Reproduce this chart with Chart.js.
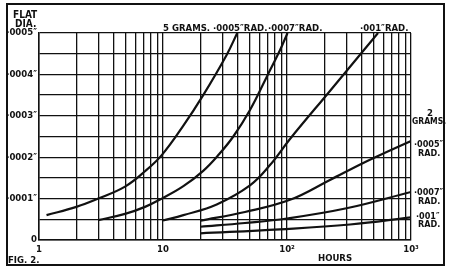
<!DOCTYPE html>
<html>
<head>
<meta charset="utf-8">
<script src="https://cdn.jsdelivr.net/npm/chart.js@4/dist/chart.umd.min.js"></script>
<style>
    html, body { margin: 0; padding: 0; background: #fff; }
    #wrap { width: 449px; height: 267px; position: relative; }
</style>
</head>
<body>
<div id="wrap"><canvas id="myChart" width="449" height="267"></canvas></div>
<script>
// 5 grams load: .0005", .0007", .001" radius
const hours5gA = [1.15, 2, 3, 4.94, 7.16, 9.77, 14.5, 21.1, 32.6, 39.7];
const dia5gA = [0.00006, 0.00008, 0.0001, 0.000129, 0.000166, 0.000205, 0.000275, 0.00035, 0.000447, 0.0005];

const hours5gB = [3, 4.94, 7.16, 9.77, 14.6, 21.1, 28.3, 36.9, 50.3, 68.6, 87.9, 101];
const dia5gB = [0.000048, 0.000063, 0.00008, 0.0001, 0.00013, 0.000167, 0.000207, 0.00025, 0.000314, 0.000394, 0.000459, 0.0005];

const hours5gC = [10, 14.6, 27.1, 50.3, 72.9, 105.7, 222, 542];
const dia5gC = [0.000047, 0.00006, 0.000086, 0.000132, 0.000181, 0.000244, 0.00036, 0.0005];

// 2 grams load: .0005", .0007", .001" radius
const hours2gA = [20, 45.8, 105.7, 222, 412, 676, 1000];
const dia2gA = [0.0000466, 0.0000676, 0.000097, 0.000145, 0.000186, 0.000216, 0.000239];

const hours2gB = [20, 45.8, 100, 302, 1000];
const dia2gB = [0.000032, 0.000041, 0.000052, 0.0000766, 0.000116];

const hours2gC = [20, 87.9, 322, 1000];
const dia2gC = [0.0000162, 0.0000258, 0.0000374, 0.0000548];

// axis ticks
const xTickValues = [1, 2, 3, 4, 5, 6, 7, 8, 9, 10, 20, 30, 40, 50, 60, 70, 80, 90, 100, 200, 300, 400, 500, 600, 700, 800, 900, 1000];
const xTickLabels = { 1: '1', 10: '10', 100: '10²', 1000: '10³' };
const yTickValues = [0, 0.00005, 0.0001, 0.00015, 0.0002, 0.00025, 0.0003, 0.00035, 0.0004, 0.00045, 0.0005];
const yTickLabels = { 0: '0', 0.0001: '·0001″', 0.0002: '·0002″', 0.0003: '·0003″', 0.0004: '·0004″', 0.0005: '·0005″' };

const FONT = "'Liberation Sans Narrow', 'DejaVu Sans Condensed', sans-serif";

function toPoints(xs, ys) {
    return xs.map(function(x, i) { return { x: x, y: ys[i] }; });
}

function curve(xs, ys) {
    return {
        data: toPoints(xs, ys),
        borderColor: '#111',
        borderWidth: 2.2,
        pointRadius: 0,
        fill: false,
        tension: 0.4
    };
}

// labels and frame drawn on top of the chart
const textPlugin = {
    id: 'textPlugin',
    afterDraw: function(chart) {
        let ctx = chart.ctx;
        ctx.save();
        ctx.fillStyle = '#111';
        ctx.textAlign = 'left';
        ctx.textBaseline = 'alphabetic';
        ctx.font = 'bold 10px ' + FONT;
        ctx.fillText('FLAT', 13, 18);
        ctx.fillText('DIA.', 15, 27);

        ctx.font = 'bold 9.5px ' + FONT;
        ctx.fillText('5 GRAMS.', 163, 31);
        ctx.fillText('·0005″RAD.', 213, 31);
        ctx.fillText('·0007″RAD.', 268, 31);
        ctx.fillText('·001″RAD.', 360, 31);

        ctx.fillText('2', 427, 116);
        ctx.font = 'bold 8.5px ' + FONT;
        ctx.fillText('GRAMS.', 412, 124);
        ctx.font = 'bold 9px ' + FONT;
        ctx.fillText('·0005″', 414, 147);
        ctx.fillText('RAD.', 418, 156);
        ctx.fillText('·0007″', 414, 195);
        ctx.fillText('RAD.', 418, 204);
        ctx.fillText('·001″', 416, 219);
        ctx.fillText('RAD.', 418, 227);

        ctx.font = 'bold 9.5px ' + FONT;
        ctx.fillText('HOURS', 318, 261);
        ctx.fillText('FIG. 2.', 8, 263);

        // outer frame
        ctx.strokeStyle = '#111';
        ctx.lineWidth = 2;
        ctx.strokeRect(7, 4, 437, 261);
        ctx.restore();
    }
};

let canvas = document.getElementById('myChart');
let chartCtx = canvas.getContext('2d');
new Chart(chartCtx, {
    type: 'line',
    data: {
        datasets: [
            curve(hours5gA, dia5gA),
            curve(hours5gB, dia5gB),
            curve(hours5gC, dia5gC),
            curve(hours2gA, dia2gA),
            curve(hours2gB, dia2gB),
            curve(hours2gC, dia2gC)
        ]
    },
    options: {
        responsive: false,
        animation: false,
        devicePixelRatio: 1,
        layout: { padding: { left: 0, top: 33, right: 38, bottom: 0 } },
        plugins: {
            legend: { display: false },
            tooltip: { enabled: false }
        },
        scales: {
            x: {
                type: 'logarithmic',
                min: 1,
                max: 1000,
                afterBuildTicks: function(scale) {
                    scale.ticks = xTickValues.map(function(v) { return { value: v }; });
                },
                afterFit: function(scale) { scale.height = 27; },
                grid: { color: '#111', lineWidth: 1.3, drawTicks: false },
                border: { color: '#111', width: 1.5 },
                ticks: {
                    autoSkip: false,
                    maxRotation: 0,
                    padding: 4,
                    color: '#111',
                    font: { family: FONT, size: 9.5, weight: 'bold' },
                    callback: function(value) {
                        return xTickLabels[value] || '';
                    }
                }
            },
            y: {
                type: 'linear',
                min: 0,
                max: 0.0005,
                afterBuildTicks: function(scale) {
                    scale.ticks = yTickValues.map(function(v) { return { value: v }; });
                },
                afterFit: function(scale) { scale.width = 39; },
                grid: { color: '#111', lineWidth: 1.3, drawTicks: false },
                border: { color: '#111', width: 1.5 },
                ticks: {
                    autoSkip: false,
                    padding: 2,
                    color: '#111',
                    font: { family: FONT, size: 9.5, weight: 'bold' },
                    callback: function(value) {
                        return yTickLabels[value] || '';
                    }
                }
            }
        }
    },
    plugins: [textPlugin]
});
</script>
</body>
</html>
